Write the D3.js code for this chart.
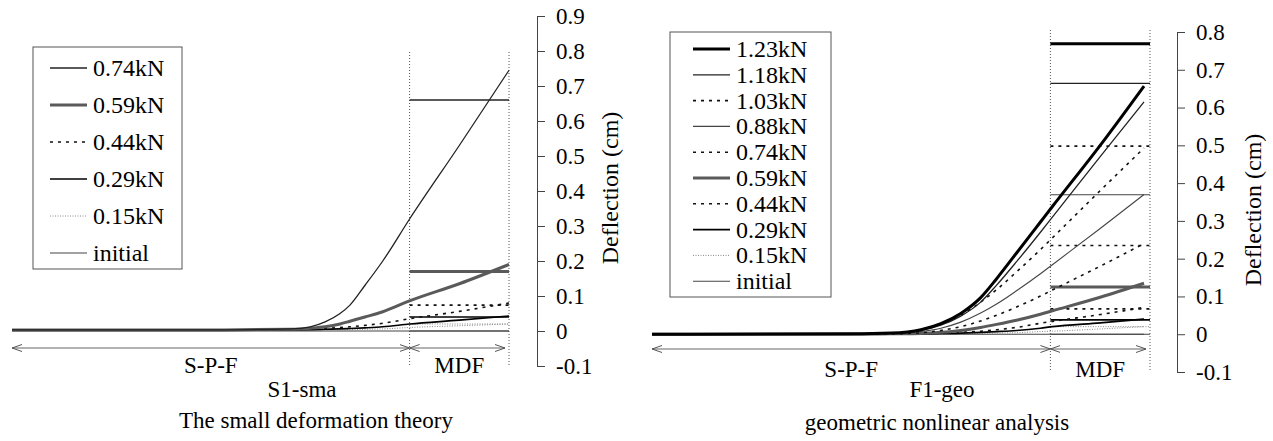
<!DOCTYPE html>
<html>
<head>
<meta charset="utf-8">
<script src="https://cdn.jsdelivr.net/npm/d3@7"></script>
<style>
  body { margin: 0; background: #fff; }
  svg { display: block; }
  svg text { font-family: "Liberation Serif", "Times New Roman", serif; fill: #000; }
</style>
</head>
<body>
<div id="chart"></div>
<script>
// ---- data: left panel (S1-sma, small deformation theory) ----
const leftLoads = ["0.74kN", "0.59kN", "0.44kN", "0.29kN", "0.15kN", "initial"];
const leftStations = [0, 20, 28, 30, 31.5, 33, 34, 35.5, 37.3, 40, 45, 50];
const leftCurves = [
  [0.003, 0.003, 0.006, 0.012, 0.026, 0.05, 0.074, 0.13, 0.2, 0.32, 0.53, 0.745],
  [0.003, 0.003, 0.005, 0.008, 0.012, 0.02, 0.028, 0.04, 0.055, 0.086, 0.135, 0.19],
  [0.003, 0.003, 0.004, 0.005, 0.007, 0.01, 0.012, 0.016, 0.022, 0.035, 0.056, 0.08],
  [0.002, 0.002, 0.003, 0.004, 0.005, 0.006, 0.007, 0.009, 0.012, 0.02, 0.031, 0.043],
  [0.001, 0.001, 0.002, 0.002, 0.003, 0.003, 0.004, 0.005, 0.006, 0.01, 0.015, 0.02],
  [0, 0, 0, 0, 0, 0, 0, 0, 0, 0, 0, 0],
];
const leftMdf = [0.66, 0.17, 0.074, 0.04, 0.02, 0];
const leftTicks = [-0.1, 0, 0.1, 0.2, 0.3, 0.4, 0.5, 0.6, 0.7, 0.8, 0.9];

// ---- data: right panel (F1-geo, geometric nonlinear analysis) ----
const rightLoads = ["1.23kN", "1.18kN", "1.03kN", "0.88kN", "0.74kN", "0.59kN", "0.44kN", "0.29kN", "0.15kN", "initial"];
const rightStations = [0, 20, 24, 27, 29, 31, 33, 34.6, 36.6, 39, 40.2, 45, 49.4];
const rightCurves = [
  [0, 0.001, 0.003, 0.012, 0.028, 0.055, 0.097, 0.147, 0.215, 0.297, 0.338, 0.5, 0.657],
  [0, 0.001, 0.003, 0.01, 0.024, 0.048, 0.085, 0.13, 0.192, 0.27, 0.31, 0.47, 0.615],
  [0, 0.001, 0.003, 0.011, 0.026, 0.05, 0.085, 0.118, 0.165, 0.224, 0.255, 0.38, 0.493],
  [0, 0.001, 0.002, 0.007, 0.016, 0.032, 0.056, 0.08, 0.115, 0.16, 0.184, 0.28, 0.37],
  [0, 0, 0.001, 0.004, 0.01, 0.02, 0.035, 0.05, 0.072, 0.101, 0.117, 0.18, 0.24],
  [0, 0, 0.001, 0.002, 0.005, 0.01, 0.018, 0.026, 0.037, 0.053, 0.062, 0.098, 0.135],
  [0, 0, 0.001, 0.002, 0.003, 0.005, 0.008, 0.012, 0.018, 0.029, 0.034, 0.052, 0.071],
  [0, 0, 0, 0.001, 0.002, 0.003, 0.005, 0.007, 0.01, 0.016, 0.02, 0.03, 0.04],
  [0, 0, 0, 0, 0.001, 0.001, 0.002, 0.003, 0.004, 0.007, 0.008, 0.014, 0.02],
  [0, 0, 0, 0, 0, 0, 0, 0, 0, 0, 0, 0, 0],
];
const rightMdf = [0.769, 0.664, 0.498, 0.369, 0.235, 0.125, 0.067, 0.038, 0.02, 0];
const rightTicks = [-0.1, 0, 0.1, 0.2, 0.3, 0.4, 0.5, 0.6, 0.7, 0.8];

// beam: S-P-F part 0..40, MDF part 40..50
const beamDomain = [0, 50];
const mdfStart = 40;

// ---- line styles ----
const solidThin = { w: 1.3, c: "#222", dash: null };
const solidGray = { w: 1.1, c: "#444", dash: null };
const thickBlack = { w: 3, c: "#000", dash: null };
const thickGray = { w: 3, c: "#5a5a5a", dash: null };
const dashed = { w: 1.6, c: "#111", dash: "3,5" };
const solidDark = { w: 1.6, c: "#000", dash: null };
const dotted = { w: 1, c: "#888", dash: "1,1.5" };

const leftStyles = [solidThin, thickGray, dashed, solidDark, dotted, solidGray];
const rightStyles = [thickBlack, solidThin, dashed, solidGray, dashed, thickGray, dashed, solidDark, dotted, solidGray];

const width = 1273;
const height = 441;

const svg = d3
  .select("#chart")
  .append("svg")
  .attr("width", width)
  .attr("height", height);

svg
  .append("defs")
  .append("marker")
  .attr("id", "arrow")
  .attr("viewBox", "0 -5 10 10")
  .attr("refX", 10)
  .attr("refY", 0)
  .attr("markerWidth", 10)
  .attr("markerHeight", 10)
  .attr("markerUnits", "userSpaceOnUse")
  .attr("orient", "auto-start-reverse")
  .append("path")
  .attr("d", "M0,-3.5L10,0L0,3.5")
  .attr("fill", "none")
  .attr("stroke", "#555")
  .attr("stroke-width", 1);

const drawPanel = (cfg) => {
  const g = svg.append("g");
  const x = d3.scaleLinear().domain(beamDomain).range(cfg.xRange);
  const y = d3.scaleLinear().domain(cfg.yDomain).range(cfg.yRange);

  const styleLine = (sel, s) =>
    sel
      .attr("fill", "none")
      .attr("stroke", s.c)
      .attr("stroke-width", s.w)
      .attr("stroke-dasharray", s.dash);

  // MDF boundaries (dotted verticals)
  [mdfStart, beamDomain[1]].forEach((b) => {
    g.append("line")
      .attr("x1", x(b))
      .attr("x2", x(b))
      .attr("y1", cfg.boundaryTop)
      .attr("y2", y(cfg.yDomain[0]))
      .attr("stroke", "#555")
      .attr("stroke-width", 1)
      .attr("stroke-dasharray", "1,2");
  });

  // MDF levels
  cfg.mdf.forEach((v, i) => {
    g.append("line")
      .attr("x1", x(mdfStart))
      .attr("x2", x(beamDomain[1]))
      .attr("y1", y(v))
      .attr("y2", y(v))
      .call(styleLine, cfg.styles[i]);
  });

  // S-P-F deflection curves
  const line = d3
    .line()
    .x((d) => x(d[0]))
    .y((d) => y(d[1]))
    .curve(d3.curveMonotoneX);

  cfg.curves
    .map((vals, i) => ({ i, pts: cfg.stations.map((s, k) => [s, vals[k]]) }))
    .reverse()
    .forEach((c) => {
      g.append("path").attr("d", line(c.pts)).call(styleLine, cfg.styles[c.i]);
    });

  // span arrows
  const arrowY = cfg.arrowY;
  [
    [beamDomain[0], mdfStart],
    [mdfStart, beamDomain[1] - 0.4],
  ].forEach(([a, b]) => {
    g.append("line")
      .attr("x1", x(a))
      .attr("x2", x(b))
      .attr("y1", arrowY)
      .attr("y2", arrowY)
      .attr("stroke", "#666")
      .attr("stroke-width", 1)
      .attr("marker-start", "url(#arrow)")
      .attr("marker-end", "url(#arrow)");
  });

  // axis (plain hyphen for negatives, as in the figure)
  const axis = d3
    .axisRight(y)
    .tickValues(cfg.ticks)
    .tickSize(8)
    .tickPadding(11)
    .tickFormat((d) => (Math.abs(d) < 1e-9 ? "0" : d.toFixed(1)));

  const ax = g
    .append("g")
    .attr("transform", `translate(${cfg.axisX},0)`)
    .call(axis)
    .attr("font-family", null)
    .attr("font-size", null);
  ax.selectAll("path, line").attr("stroke", "#444").attr("stroke-width", 1);
  ax.selectAll("text").style("font-size", "23px");

  g.append("text")
    .attr("transform", `translate(${cfg.yLabel[0]},${cfg.yLabel[1]}) rotate(-90)`)
    .attr("text-anchor", "middle")
    .attr("dy", "0.35em")
    .style("font-size", "24px")
    .text("Deflection (cm)");

  // legend
  const L = cfg.legend;
  g.append("rect")
    .attr("x", L.x)
    .attr("y", L.y)
    .attr("width", L.w)
    .attr("height", L.h)
    .attr("fill", "#fff")
    .attr("stroke", "#555")
    .attr("stroke-width", 1);
  cfg.loads.forEach((name, i) => {
    const ry = L.row0 + i * L.dy;
    g.append("line")
      .attr("x1", L.x0)
      .attr("x2", L.x1)
      .attr("y1", ry)
      .attr("y2", ry)
      .call(styleLine, cfg.styles[i]);
    g.append("text")
      .attr("x", L.tx)
      .attr("y", ry)
      .attr("dy", "0.33em")
      .style("font-size", "24px")
      .text(name);
  });

  // bottom labels
  const addText = (t, tx, ty) =>
    g.append("text")
      .attr("x", tx)
      .attr("y", ty)
      .attr("text-anchor", "middle")
      .style("font-size", "23px")
      .text(t);
  addText("S-P-F", x(20), cfg.spanLabelY);
  addText("MDF", (x(mdfStart) + x(beamDomain[1])) / 2, cfg.spanLabelY);
  addText(cfg.name, cfg.nameX, 397);
  addText(cfg.caption, cfg.captionX, cfg.captionY);
};

drawPanel({
  loads: leftLoads,
  stations: leftStations,
  curves: leftCurves,
  mdf: leftMdf,
  ticks: leftTicks,
  styles: leftStyles,
  yDomain: [-0.1, 0.9],
  xRange: [12, 509],
  yRange: [366, 16],
  axisX: 537,
  boundaryTop: 52,
  arrowY: 348,
  yLabel: [610, 188],
  legend: { x: 33, y: 47, w: 149, h: 222, row0: 68, dy: 37, x0: 50, x1: 87, tx: 93 },
  spanLabelY: 373,
  name: "S1-sma",
  nameX: 302,
  caption: "The small deformation theory",
  captionX: 316,
  captionY: 428,
});

drawPanel({
  loads: rightLoads,
  stations: rightStations,
  curves: rightCurves,
  mdf: rightMdf,
  ticks: rightTicks,
  styles: rightStyles,
  yDomain: [-0.1, 0.8],
  xRange: [652, 1150],
  yRange: [372, 32],
  axisX: 1177,
  boundaryTop: 30,
  arrowY: 349,
  yLabel: [1253, 210],
  legend: { x: 670, y: 32, w: 161, h: 265, row0: 49, dy: 25.8, x0: 693, x1: 730, tx: 736 },
  spanLabelY: 377,
  name: "F1-geo",
  nameX: 942,
  caption: "geometric nonlinear analysis",
  captionX: 937,
  captionY: 430,
});
</script>
</body>
</html>
